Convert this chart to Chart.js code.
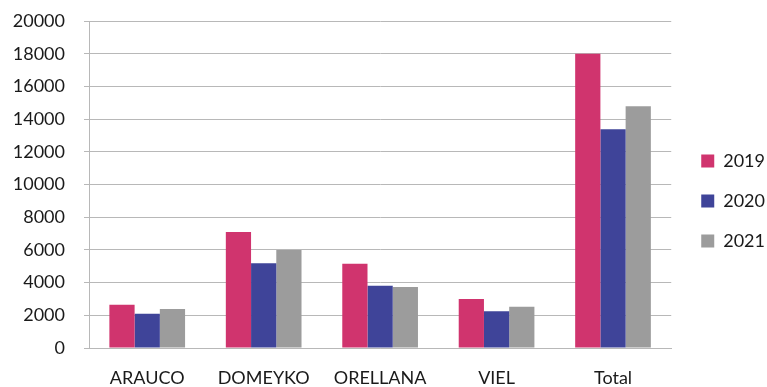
<!DOCTYPE html>
<html>
<head>
<meta charset="utf-8">
<script src="https://cdn.jsdelivr.net/npm/chart.js@4"></script>
<style>
  html, body { margin: 0; padding: 0; background: #fff; }
  #wrap { width: 767px; height: 387px; }
</style>
</head>
<body>
<div id="wrap"><canvas id="chart" width="767" height="387"></canvas></div>
<script>
const categories = ['ARAUCO', 'DOMEYKO', 'ORELLANA', 'VIEL', 'Total'];
const years = ['2019', '2020', '2021'];
const values2019 = [2650, 7100, 5150, 3000, 18000];
const values2020 = [2100, 5180, 3810, 2250, 13380];
const values2021 = [2390, 6000, 3730, 2530, 14780];
const colors = ['#D0346E', '#3F4499', '#9C9C9C'];

// nudge the legend right and a bit up, like the original
const legendShift = {
    id: 'legendShift',
    afterLayout(chart) {
        chart.legend.left += 8;
        chart.legend.right += 8;
        chart.legend.top -= 3;
        chart.legend.bottom -= 3;
    }
};

window.onload = () => {
    const ctx = document.getElementById('chart');
    Chart.defaults.font.family = 'Lato';
    Chart.defaults.font.size = 18;
    Chart.defaults.color = '#1a1a1a';

    new Chart(ctx, {
        type: 'bar',
        data: {
            labels: categories,
            datasets: [values2019, values2020, values2021].map((d, i) => ({
                label: years[i],
                data: d,
                backgroundColor: colors[i],
                borderWidth: 0,
                barPercentage: 1.0,
                categoryPercentage: 0.65
            }))
        },
        options: {
            responsive: false,
            animation: false,
            layout: {
                padding: { left: 0, top: 21, right: 0, bottom: 0 }
            },
            scales: {
                y: {
                    min: 0,
                    max: 20000,
                    ticks: { stepSize: 2000, padding: 0, callback: v => String(v) },
                    // long tick slot for spacing, only the 5px next to the axis drawn
                    grid: { color: '#b8b8b8', tickLength: 24, tickBorderDash: [0, 19, 5, 100], lineWidth: 1 },
                    border: { color: '#b8b8b8' },
                    afterFit: (scale) => { scale.width = 89; }
                },
                x: {
                    grid: { display: false, drawTicks: false },
                    border: { color: '#b8b8b8' },
                    ticks: { padding: 19 },
                    afterFit: (scale) => { scale.height = 39; }
                }
            },
            plugins: {
                legend: {
                    position: 'right',
                    labels: {
                        boxWidth: 13,
                        boxHeight: 13,
                        padding: 22
                    }
                },
                tooltip: { enabled: false }
            }
        },
        plugins: [legendShift]
    });
}
</script>
</body>
</html>
